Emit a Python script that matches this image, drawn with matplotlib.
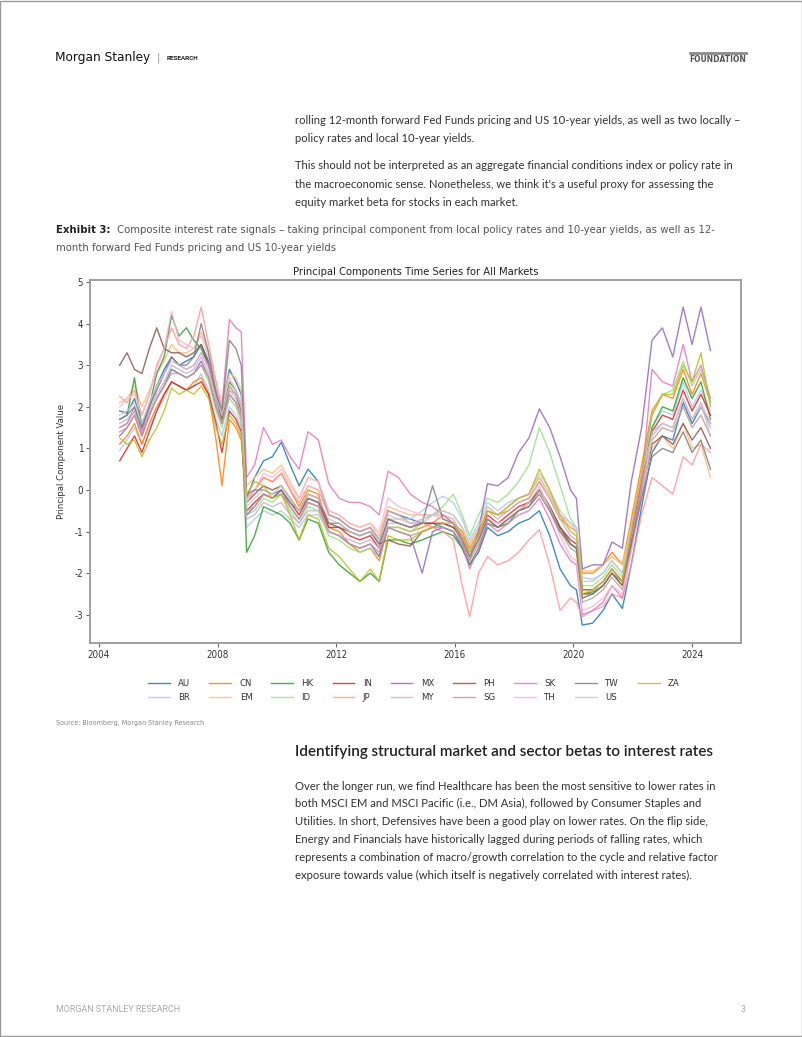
import matplotlib
matplotlib.use("Agg")
import matplotlib.pyplot as plt
from matplotlib.patches import Rectangle
from matplotlib.lines import Line2D

NARROW = ['DejaVu Sans']
BODY = ['Lato', 'DejaVu Sans']
plt.rcParams['font.family'] = NARROW
plt.rcParams['font.stretch'] = 'condensed'

# ---------------- data ----------------
years = [2004.70, 2004.95, 2005.20, 2005.45, 2005.70, 2005.95, 2006.20, 2006.45, 2006.70, 2006.95,
         2007.20, 2007.45, 2007.70, 2007.95, 2008.15, 2008.40, 2008.62, 2008.80, 2008.98, 2009.25,
         2009.55, 2009.85, 2010.15, 2010.45, 2010.75, 2011.05, 2011.40, 2011.75, 2012.10, 2012.45,
         2012.80, 2013.15, 2013.45, 2013.75, 2014.10, 2014.50, 2014.90, 2015.25, 2015.60, 2015.95,
         2016.25, 2016.50, 2016.80, 2017.10, 2017.45, 2017.80, 2018.15, 2018.50, 2018.85, 2019.20,
         2019.55, 2019.90, 2020.10, 2020.30, 2020.65, 2021.00, 2021.30, 2021.65, 2021.95, 2022.30,
         2022.65, 2023.00, 2023.35, 2023.70, 2024.00, 2024.30, 2024.62]

AU = [1.9, 1.85, 2.2, 1.6, 2.0, 2.5, 2.9, 3.2, 3.0, 3.1,
      3.2, 3.5, 3.1, 2.4, 2.0, 2.9, 2.6, 2.3, -0.2, 0.3,
      0.7, 0.8, 1.15, 0.6, 0.1, 0.5, 0.2, -0.6, -0.7, -0.9,
      -1.0, -0.9, -1.2, -0.5, -0.6, -0.7, -0.8, -0.8, -0.9, -1.0,
      -1.4, -1.8, -1.5, -0.9, -1.1, -1.0, -0.8, -0.7, -0.5, -1.1,
      -1.9, -2.3, -2.4, -3.25, -3.2, -2.9, -2.5, -2.85, -1.8, -0.4,
      0.9, 1.3, 1.2, 2.1, 1.6, 2.0, 1.6]
BR = [0.95, 1.2, 1.5, 1.1, 1.5, 1.9, 2.2, 2.6, 2.5, 2.4,
      2.5, 2.8, 2.4, 1.7, 1.3, 2.0, 1.8, 1.5, -0.9, -0.7,
      -0.5, -0.6, -0.5, -0.7, -0.9, -0.6, -0.6, -1.0, -1.1, -1.3,
      -1.4, -1.3, -1.5, -0.7, -0.7, -0.7, -0.5, -0.3, -0.15, -0.3,
      -0.7, -1.2, -0.8, -0.3, -0.5, -0.3, -0.2, -0.1, 0.3, -0.1,
      -0.6, -0.8, -1.0, -2.1, -2.15, -2.0, -1.7, -2.0, -0.9, 0.4,
      1.5, 1.9, 1.8, 2.6, 2.0, 2.4, 1.9]
CN = [1.1, 1.3, 1.6, 1.1, 1.6, 2.0, 2.3, 2.6, 2.5, 2.4,
      2.6, 2.7, 2.3, 1.2, 0.1, 1.7, 1.5, 1.2, -0.3, 0.0,
      0.3, 0.2, 0.4, 0.0, -0.4, 0.0, -0.1, -0.9, -1.0, -1.3,
      -1.5, -1.4, -1.7, -0.9, -0.9, -1.0, -0.9, -0.8, -0.6, -0.8,
      -1.0, -1.4, -1.0, -0.5, -0.6, -0.5, -0.3, -0.2, 0.2, -0.2,
      -0.7, -0.9, -1.0, -2.0, -2.0, -1.8, -1.5, -1.8, -0.7, 0.6,
      1.9, 2.3, 2.2, 2.9, 2.3, 2.8, 2.1]
EM = [2.1, 2.2, 2.5, 2.0, 2.4, 2.8, 3.1, 3.5, 3.3, 3.3,
      3.4, 3.8, 3.3, 2.6, 2.1, 2.8, 2.7, 2.4, 0.1, 0.3,
      0.5, 0.4, 0.6, 0.2, -0.2, 0.3, 0.2, -0.5, -0.6, -0.8,
      -0.9, -0.8, -1.1, -0.4, -0.5, -0.6, -0.6, -0.6, -0.5, -0.6,
      -0.9, -1.3, -0.9, -0.4, -0.6, -0.4, -0.2, -0.1, 0.3, -0.1,
      -0.6, -0.9, -1.0, -1.95, -1.95, -1.8, -1.6, -1.8, -0.9, 0.1,
      1.0, 1.3, 1.0, 1.6, 1.0, 1.1, 0.3]
HK = [1.7, 1.8, 2.7, 1.5, 2.0, 2.8, 3.2, 4.2, 3.7, 3.9,
      3.6, 3.4, 3.0, 2.3, 1.8, 2.6, 2.4, 2.0, -1.5, -1.1,
      -0.4, -0.5, -0.6, -0.8, -1.2, -0.7, -0.8, -1.5, -1.8, -2.0,
      -2.2, -2.0, -2.2, -1.2, -1.2, -1.3, -1.2, -1.1, -1.0, -1.1,
      -1.4, -1.8, -1.4, -0.8, -0.9, -0.8, -0.5, -0.4, 0.0, -0.4,
      -0.9, -1.3, -1.4, -2.5, -2.45, -2.3, -2.0, -2.3, -1.2, 0.1,
      1.5, 2.0, 1.9, 2.7, 2.2, 2.6, 1.7]
ID = [1.5, 1.6, 1.9, 1.3, 1.8, 2.2, 2.5, 2.9, 2.8, 2.7,
      2.8, 3.0, 2.6, 1.9, 1.5, 2.2, 2.0, 1.6, -0.6, -0.5,
      -0.2, -0.3, -0.1, -0.5, -0.8, -0.4, -0.5, -1.1, -1.2, -1.4,
      -1.5, -1.4, -1.6, -0.9, -0.9, -1.0, -0.8, -0.6, -0.4, -0.1,
      -0.6, -1.1, -0.6, -0.2, -0.3, -0.1, 0.2, 0.6, 1.5, 0.9,
      0.1, -0.7, -0.9, -2.3, -2.3, -2.1, -1.8, -2.1, -1.0, 0.3,
      1.8, 2.3, 2.4, 3.1, 2.5, 2.9, 2.1]
IN = [0.7, 1.0, 1.3, 0.9, 1.4, 1.9, 2.3, 2.6, 2.5, 2.4,
      2.5, 2.6, 2.3, 1.6, 0.9, 1.9, 1.7, 1.4, -0.5, -0.3,
      -0.1, -0.2, 0.0, -0.3, -0.6, -0.2, -0.3, -0.9, -0.9, -1.1,
      -1.2, -1.1, -1.4, -0.7, -0.8, -0.9, -0.8, -0.8, -0.8, -0.9,
      -1.1, -1.5, -1.1, -0.6, -0.8, -0.6, -0.4, -0.3, 0.0, -0.4,
      -0.9, -1.2, -1.3, -2.4, -2.4, -2.2, -1.9, -2.2, -1.1, 0.2,
      1.4, 1.8, 1.7, 2.4, 1.9, 2.3, 1.8]
JP = [2.25, 2.1, 2.4, 1.8, 2.3, 3.0, 3.4, 3.9, 3.5, 3.4,
      3.7, 4.4, 3.5, 2.6, 1.8, 2.4, 2.3, 2.0, -0.2, 0.0,
      0.3, 0.2, 0.4, 0.0, -0.3, 0.1, 0.0, -0.6, -0.7, -0.9,
      -1.0, -0.9, -1.2, -0.5, -0.6, -0.8, -0.8, -0.9, -1.0, -1.2,
      -2.3, -3.05, -2.0, -1.6, -1.8, -1.7, -1.5, -1.2, -0.95, -1.8,
      -2.9, -2.6, -2.7, -3.05, -2.9, -2.8, -2.5, -2.6, -1.8, -0.6,
      0.3, 0.1, -0.1, 0.8, 0.6, 1.1, 0.9]
MX = [1.3, 1.5, 1.8, 1.3, 1.8, 2.2, 2.5, 2.9, 2.8, 2.7,
      2.8, 3.1, 2.7, 2.0, 1.6, 2.3, 2.1, 1.8, -0.6, -0.4,
      -0.1, -0.2, 0.0, -0.4, -0.7, -0.3, -0.4, -1.0, -1.1, -1.3,
      -1.4, -1.3, -1.6, -0.9, -1.0, -1.1, -2.0, -1.0, -0.9, -1.0,
      -1.3, -1.7, -1.0, 0.15, 0.1, 0.3, 0.9, 1.25, 1.95, 1.5,
      0.8, 0.0, -0.2, -1.9, -1.8, -1.8, -1.25, -1.4, 0.2, 1.5,
      3.6, 3.9, 3.2, 4.4, 3.5, 4.4, 3.35]
MY = [1.6, 1.7, 1.9, 1.4, 1.9, 2.3, 2.6, 3.0, 2.9, 2.8,
      2.9, 3.2, 2.8, 2.1, 1.7, 2.4, 2.2, 1.8, -0.7, -0.6,
      -0.3, -0.4, -0.3, -0.6, -0.8, -0.5, -0.5, -1.0, -1.1, -1.2,
      -1.3, -1.2, -1.4, -0.8, -0.8, -0.9, -0.7, -0.6, -0.6, -0.7,
      -1.1, -1.5, -1.1, -0.5, -0.7, -0.5, -0.3, -0.2, 0.2, -0.2,
      -0.7, -1.1, -1.2, -2.6, -2.5, -2.3, -2.0, -2.3, -1.2, 0.1,
      1.4, 1.6, 1.5, 2.2, 1.7, 2.0, 1.5]
PH = [3.0, 3.3, 2.9, 2.8, 3.4, 3.9, 3.4, 3.3, 3.3, 3.2,
      3.3, 3.5, 3.0, 2.2, 1.7, 2.5, 2.3, 1.9, -0.3, -0.1,
      0.1, 0.0, 0.1, -0.2, -0.5, -0.1, -0.2, -0.8, -0.9, -1.0,
      -1.1, -1.0, -1.3, -1.2, -1.3, -1.35, -1.0, -0.9, -0.8, -0.9,
      -1.2, -1.6, -1.2, -0.7, -0.9, -0.7, -0.5, -0.3, 0.0, -0.4,
      -0.9, -1.3, -1.4, -2.5, -2.5, -2.3, -2.0, -2.3, -1.3, -0.1,
      1.1, 1.3, 1.1, 1.6, 1.2, 1.5, 1.0]
SG = [1.4, 1.5, 1.8, 1.3, 1.8, 2.2, 2.5, 2.8, 2.8, 2.7,
      2.8, 3.0, 2.7, 2.0, 1.6, 2.3, 2.1, 1.7, -0.5, -0.4,
      -0.1, -0.2, -0.1, -0.4, -0.7, -0.3, -0.4, -1.0, -1.1, -1.3,
      -1.4, -1.3, -1.5, -0.9, -1.0, -1.1, -1.0, -0.9, -0.9, -1.0,
      -1.3, -1.7, -1.3, -0.7, -0.9, -0.7, -0.5, -0.4, 0.0, -0.4,
      -1.0, -1.4, -1.5, -2.7, -2.6, -2.4, -2.1, -2.4, -1.4, -0.1,
      1.2, 1.5, 1.4, 2.0, 1.5, 1.8, 1.3]
SK = [1.5, 1.6, 2.0, 1.4, 2.0, 2.5, 2.8, 3.2, 3.0, 2.9,
      3.0, 3.3, 3.0, 2.4, 2.0, 4.1, 3.9, 3.8, 0.3, 0.6,
      1.5, 1.1, 1.2, 0.8, 0.5, 1.4, 1.2, 0.15, -0.2, -0.3,
      -0.3, -0.4, -0.6, 0.45, 0.3, -0.1, -0.3, -0.4, -0.6, -0.8,
      -1.3, -1.9, -1.4, -0.8, -1.0, -0.8, -0.6, -0.5, -0.2, -0.7,
      -1.3, -1.7, -1.8, -3.0, -2.9, -2.7, -2.3, -2.6, -1.4, 0.2,
      2.9, 2.6, 2.5, 3.5, 2.6, 3.0, 2.2]
TH = [2.0, 2.2, 2.3, 1.8, 2.3, 2.9, 3.4, 4.3, 3.6, 3.5,
      3.4, 3.7, 3.2, 2.5, 2.0, 2.7, 2.4, 2.1, -0.3, 0.0,
      0.4, 0.3, 0.5, 0.1, -0.2, 0.3, 0.2, -0.5, -0.6, -0.8,
      -0.9, -0.8, -1.0, -0.2, -0.4, -0.5, -0.6, -0.6, -0.7, -0.8,
      -1.2, -1.6, -1.2, -0.7, -0.8, -0.7, -0.5, -0.3, 0.1, -0.5,
      -1.1, -1.6, -1.7, -2.9, -2.8, -2.6, -2.3, -2.5, -1.5, -0.2,
      1.3, 1.6, 1.5, 2.2, 1.7, 2.1, 1.6]
TW = [1.7, 1.8, 2.0, 1.5, 2.0, 2.4, 2.8, 3.2, 3.0, 3.0,
      3.2, 4.0, 3.3, 2.3, 1.9, 3.6, 3.4, 3.0, -0.1, 0.0,
      0.0, -0.1, 0.0, -0.3, -0.5, -0.2, -0.3, -0.8, -0.8, -1.0,
      -1.1, -1.0, -1.3, -0.7, -0.8, -0.9, -0.8, 0.1, -0.7, -0.8,
      -1.2, -1.6, -1.2, -0.7, -0.9, -0.7, -0.5, -0.4, -0.1, -0.5,
      -1.0, -1.3, -1.4, -2.6, -2.5, -2.3, -2.0, -2.2, -1.3, -0.2,
      0.8, 1.0, 0.9, 1.4, 0.9, 1.2, 0.5]
US = [1.8, 1.9, 2.1, 1.6, 2.1, 2.5, 2.8, 3.1, 3.0, 2.9,
      3.0, 3.3, 2.9, 2.2, 1.8, 2.5, 2.3, 2.0, -0.4, -0.2,
      0.0, -0.1, 0.1, -0.2, -0.5, -0.1, -0.2, -0.7, -0.8, -1.0,
      -1.1, -1.0, -1.2, -0.6, -0.7, -0.8, -0.7, -0.6, -0.5, -0.6,
      -0.9, -1.3, -0.9, -0.4, -0.6, -0.4, -0.2, -0.1, 0.4, 0.0,
      -0.5, -0.8, -0.9, -2.2, -2.2, -2.0, -1.7, -2.0, -0.9, 0.4,
      1.3, 1.6, 1.5, 2.2, 1.7, 2.1, 1.3]
ZA = [1.25, 1.1, 1.2, 0.8, 1.2, 1.5, 1.9, 2.45, 2.3, 2.4,
      2.3, 2.5, 2.2, 1.5, 1.1, 1.8, 1.6, 1.3, -0.1, 0.2,
      0.1, -0.2, -0.1, -0.6, -1.2, -0.6, -0.7, -1.4, -1.6, -1.9,
      -2.2, -1.9, -2.2, -1.1, -1.2, -1.2, -1.0, -0.9, -0.8, -0.8,
      -1.1, -1.5, -1.1, -0.5, -0.6, -0.4, -0.2, -0.1, 0.5, 0.0,
      -0.6, -1.0, -1.1, -2.5, -2.4, -2.2, -1.9, -2.2, -1.0, 0.4,
      1.8, 2.3, 2.3, 3.0, 2.6, 3.3, 2.0]

markets = ["AU", "BR", "CN", "EM", "HK", "ID", "IN", "JP", "MX",
           "MY", "PH", "SG", "SK", "TH", "TW", "US", "ZA"]
series = [AU, BR, CN, EM, HK, ID, IN, JP, MX, MY, PH, SG, SK, TH, TW, US, ZA]
x_ticks = [2004, 2008, 2012, 2016, 2020, 2024]
y_ticks = [-3, -2, -1, 0, 1, 2, 3, 4, 5]

colors = ['#1f77b4', '#aec7e8', '#ff7f0e', '#ffbb78', '#2ca02c', '#98df8a',
          '#d62728', '#ff9896', '#9467bd', '#c5b0d5', '#8c564b', '#c49c94',
          '#e377c2', '#f7b6d2', '#7f7f7f', '#c7c7c7', '#bcbd22']

# ---------------- figure ----------------
W, H = 802, 1037
fig = plt.figure(figsize=(W / 100, H / 100), dpi=100)
fig.patch.set_facecolor('white')
NK = dict(family=NARROW, fontstretch='condensed')


def txt(x, y, s, **kw):
    kw.setdefault('va', 'center')
    fig.text(x / W, 1 - y / H, s, **kw)


# page border
fig.add_artist(Rectangle((0.0005, 0.0005), 0.999, 0.999, transform=fig.transFigure,
                         fill=False, edgecolor='#9a9a9a', lw=1.0))

# header
txt(55, 58, "Morgan Stanley", fontsize=9.7, color='#111111', **NK)
txt(157, 57.5, "|", fontsize=8, color='#9a9a9a', **NK)
txt(167, 58, "RESEARCH", fontsize=4.6, color='#222222', fontweight='bold', family=['Roboto', 'DejaVu Sans'])
fig.add_artist(Line2D([690 / W, 746 / W], [1 - 52.5 / H, 1 - 52.5 / H], transform=fig.transFigure,
                      color='#8a8a8a', lw=2.0))
txt(746, 59.5, "FOUNDATION", fontsize=6.0, color='#555555', fontweight='bold', ha='right', **NK)

# top body text
body_kw = dict(fontsize=8.15, color='#333333', family=BODY, fontstretch='normal')
txt(295, 120.5, "rolling 12-month forward Fed Funds pricing and US 10-year yields, as well as two locally –", **body_kw)
txt(295, 139, "policy rates and local 10-year yields.", **body_kw)
txt(295, 165.5, "This should not be interpreted as an aggregate financial conditions index or policy rate in", **body_kw)
txt(295, 184, "the macroeconomic sense. Nonetheless, we think it's a useful proxy for assessing the", **body_kw)
txt(295, 202.5, "equity market beta for stocks in each market.", **body_kw)

# exhibit caption
txt(56, 230, "Exhibit 3:", fontsize=8.1, color='#222222', fontweight='bold', **NK)
cap_kw = dict(fontsize=8.1, color='#555555', **NK)
txt(117, 230, "Composite interest rate signals – taking principal component from local policy rates and 10-year yields, as well as 12-", **cap_kw)
txt(56, 248, "month forward Fed Funds pricing and US 10-year yields", **cap_kw)

# ---------------- chart ----------------
ax = fig.add_axes([90 / W, 1 - 643 / H, (741 - 90) / W, (643 - 280) / H])
for name, vals, c in zip(markets, series, colors):
    ax.plot(years, vals, color=c, lw=1.0, alpha=0.85, label=name)

ax.set_xlim(2003.70, 2025.65)
ax.set_ylim(-3.68, 5.05)
ax.set_xticks(x_ticks)
ax.set_xticklabels([str(v) for v in x_ticks])
ax.set_yticks(y_ticks)
ax.set_yticklabels([str(v) for v in y_ticks])
ax.tick_params(length=3, width=0.8, color='#666666', labelcolor='#333333', labelsize=7.0, pad=2)
for sp in ax.spines.values():
    sp.set_color('#999999')
    sp.set_linewidth(1.3)
ax.set_title("Principal Components Time Series for All Markets", fontsize=8.0, color='#222222', pad=3.5)
ax.set_ylabel("Principal Component Value", fontsize=6.8, color='#333333', labelpad=6)

handles, labels = ax.get_legend_handles_labels()
fig.legend(handles, labels, loc='center', bbox_to_anchor=(414 / W, 1 - 690.5 / H), ncol=9,
           frameon=False, fontsize=6.8, handlelength=2.3, handletextpad=0.9, columnspacing=2.0,
           labelspacing=0.5, borderaxespad=0, labelcolor='#333333')

# source
txt(56, 723, "Source: Bloomberg, Morgan Stanley Research", fontsize=5.1, color='#888888', **NK)

# section heading and paragraph
txt(295, 752, "Identifying structural market and sector betas to interest rates", fontsize=11.0,
    color='#222222', family=BODY, fontweight='semibold', fontstretch='normal')
para = ["Over the longer run, we find Healthcare has been the most sensitive to lower rates in",
        "both MSCI EM and MSCI Pacific (i.e., DM Asia), followed by Consumer Staples and",
        "Utilities. In short, Defensives have been a good play on lower rates. On the flip side,",
        "Energy and Financials have historically lagged during periods of falling rates, which",
        "represents a combination of macro/growth correlation to the cycle and relative factor",
        "exposure towards value (which itself is negatively correlated with interest rates)."]
for i, line in enumerate(para):
    txt(295, 786 + i * 17.8, line, **body_kw)

# footer
txt(56, 1010, "MORGAN STANLEY RESEARCH", fontsize=6.4, color='#aaaaaa', family=['Roboto', 'DejaVu Sans'])
txt(746, 1010, "3", fontsize=6.4, color='#aaaaaa', ha='right', family=['Roboto', 'DejaVu Sans'])

fig.savefig("out.png", dpi=100, facecolor='white')
